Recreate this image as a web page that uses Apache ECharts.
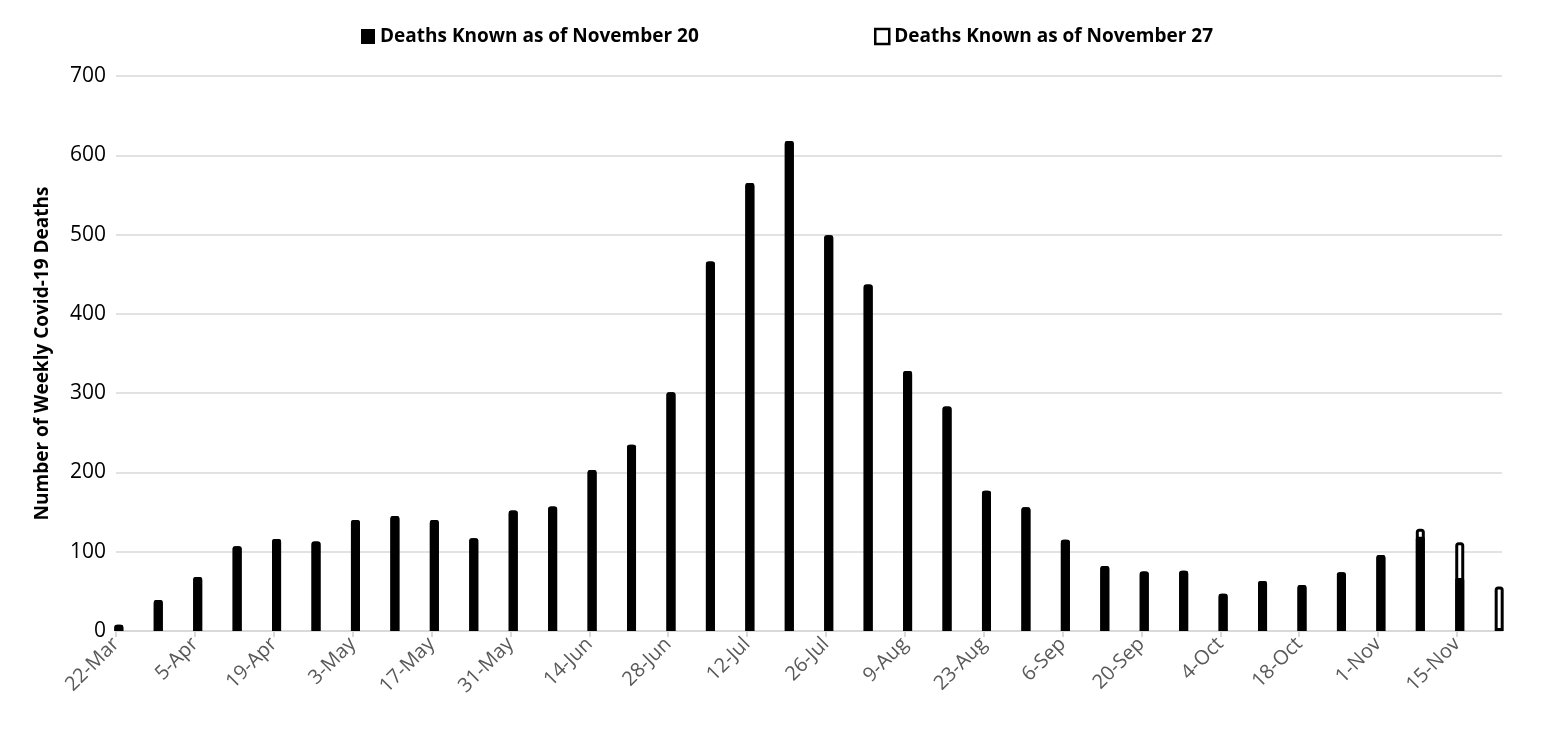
<!DOCTYPE html>
<html>
<head>
<meta charset="utf-8">
<script src="https://cdn.jsdelivr.net/npm/echarts@6/dist/echarts.min.js"></script>
<style>
html,body{margin:0;padding:0;background:#fff;}
#c{width:1542px;height:729px;}
</style>
</head>
<body>
<div id="c"></div>
<script>
// Week-start dates (weekly bars)
const weeks = ['22-Mar','29-Mar','5-Apr','12-Apr','19-Apr','26-Apr','3-May','10-May','17-May','24-May','31-May','7-Jun','14-Jun','21-Jun','28-Jun','5-Jul','12-Jul','19-Jul','26-Jul','2-Aug','9-Aug','16-Aug','23-Aug','30-Aug','6-Sep','13-Sep','20-Sep','27-Sep','4-Oct','11-Oct','18-Oct','25-Oct','1-Nov','8-Nov','15-Nov','22-Nov'];
// Deaths known as of November 20
const deathsNov20 = [8,39,68,107,116,113,140,145,140,117,152,157,203,235,301,466,565,618,499,437,328,283,177,156,115,82,75,76,47,63,58,74,96,119,67,null];
// Deaths known as of November 27
const deathsNov27 = [8,39,68,107,116,113,140,145,140,117,152,157,203,235,301,466,565,618,499,437,328,283,177,156,115,82,75,76,47,63,58,74,96,129,112,56];
// Tick labels every two weeks
const tickWeeks = ['22-Mar','5-Apr','19-Apr','3-May','17-May','31-May','14-Jun','28-Jun','12-Jul','26-Jul','9-Aug','23-Aug','6-Sep','20-Sep','4-Oct','18-Oct','1-Nov','15-Nov'];
const yTicks = [0,100,200,300,400,500,600,700];

const DAYS_PER_WEEK = 7;
const totalDays = weeks.length * DAYS_PER_WEEK - 6; // axis spans first to last week day inclusive
const tickDays = tickWeeks.map(w => weeks.indexOf(w) * DAYS_PER_WEEK);
const labelMap = {};
tickWeeks.forEach((w, i) => { labelMap[tickDays[i]] = w; });

const toPoints = arr => arr.map((v, i) => [i * DAYS_PER_WEEK + 0.5, v]);

const FONT = 'Open Sans';
const xAxisBase = {
  type: 'value',
  min: 0,
  max: totalDays,
  splitLine: {show: false},
  axisLine: {show: true, lineStyle: {color: '#d9d9d9', width: 2}},
  axisTick: {show: true, customValues: tickDays, length: 6, lineStyle: {color: '#d9d9d9', width: 2}},
  axisLabel: {
    customValues: tickDays,
    rotate: 45,
    margin: 10,
    color: '#595959',
    fontFamily: FONT,
    fontSize: 20,
    formatter: v => labelMap[v] || ''
  }
};

const chart = echarts.init(document.getElementById('c'), null, {renderer: 'canvas'});
chart.setOption({
  animation: false,
  backgroundColor: '#fff',
  textStyle: {fontFamily: FONT},
  grid: {left: 116, right: 40, top: 76, bottom: 98, containLabel: false},
  legend: [
    {
      data: ['Deaths Known as of November 20'],
      left: 356, top: 22,
      icon: 'rect', itemWidth: 14, itemHeight: 15,
      textStyle: {fontFamily: FONT, fontWeight: 'bold', fontSize: 19, color: '#000'}
    },
    {
      data: ['Deaths Known as of November 27'],
      left: 869, top: 22,
      icon: 'rect', itemWidth: 14, itemHeight: 15,
      itemStyle: {borderWidth: 2.5},
      textStyle: {fontFamily: FONT, fontWeight: 'bold', fontSize: 19, color: '#000'}
    }
  ],
  xAxis: [
    xAxisBase,
    Object.assign({}, xAxisBase, {show: false})
  ],
  yAxis: {
    type: 'value',
    min: 0, max: 700, interval: 100,
    name: 'Number of Weekly Covid-19 Deaths',
    nameLocation: 'middle',
    nameGap: 64,
    nameTextStyle: {fontFamily: FONT, fontWeight: 'bold', fontSize: 19, color: '#000'},
    axisLine: {show: false},
    axisTick: {show: false},
    axisLabel: {color: '#000', fontFamily: FONT, fontSize: 21, margin: 10,
      formatter: v => (yTicks.indexOf(v) >= 0 ? String(v) : '')},
    splitLine: {lineStyle: {color: '#d9d9d9', width: 1.5}}
  },
  series: [
    {
      name: 'Deaths Known as of November 27',
      type: 'bar',
      xAxisIndex: 1,
      data: toPoints(deathsNov27),
      barWidth: 9,
      clip: true,
      z: 2,
      itemStyle: {color: '#ffffff', borderColor: '#000000', borderWidth: 3, borderRadius: [2,2,0,0]}
    },
    {
      name: 'Deaths Known as of November 20',
      type: 'bar',
      xAxisIndex: 0,
      data: toPoints(deathsNov20),
      barWidth: 9,
      clip: true,
      z: 3,
      itemStyle: {color: '#000000', borderRadius: [2,2,0,0]}
    }
  ]
});
</script>
</body>
</html>
